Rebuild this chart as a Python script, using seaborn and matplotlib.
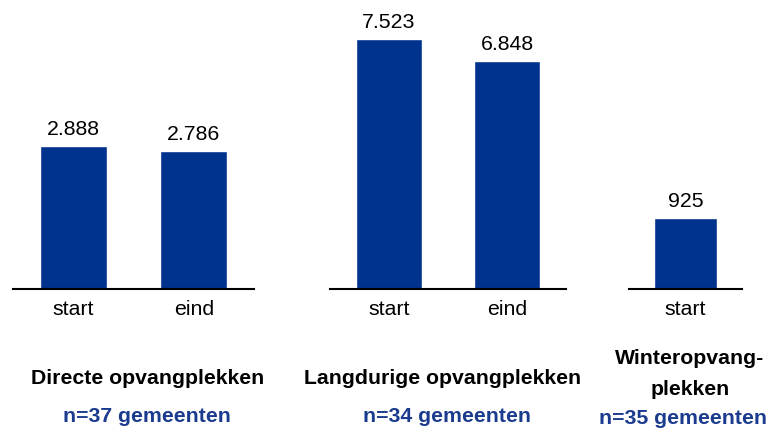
import matplotlib
matplotlib.use("Agg")
import matplotlib.pyplot as plt
import seaborn as sns

# data
direct_cats = ["start", "eind"]
direct_vals = [2888, 2786]
long_cats = ["start", "eind"]
long_vals = [7523, 6848]
winter_cats = ["start"]
winter_vals = [925]

group_titles = ["Directe opvangplekken", "Langdurige opvangplekken", "Winteropvang-\nplekken"]
group_counts = ["n=37 gemeenten", "n=34 gemeenten", "n=35 gemeenten"]

BAR_COLOR = "#00338D"
N_COLOR = "#1B3B8E"

sns.set_style("white")
plt.rcParams["font.family"] = ["Liberation Sans", "DejaVu Sans"]
plt.rcParams["text.color"] = "black"
plt.rcParams["xtick.color"] = "black"

W, H = 768, 430
fig = plt.figure(figsize=(W / 100, H / 100), dpi=100)

# (left px, width px, ymax, xlim) per panel
panels = [
    (direct_cats, direct_vals, 13, 241, 5837, (-0.5, 1.5)),
    (long_cats, long_vals, 330, 236, 8697, (-0.5, 1.5)),
    (winter_cats, winter_vals, 629, 113, 3765, (-0.5, 0.5)),
]
base_y = 289
FS = 15.3

for cats, vals, left, width, ymax, xl in panels:
    ax = fig.add_axes([left / W, (H - base_y) / H, width / W, base_y / H])
    sns.barplot(x=cats, y=vals, ax=ax, color=BAR_COLOR, width=0.56,
                saturation=1)
    ax.set_ylim(0, ymax)
    ax.set_xlim(*xl)
    ax.set_ylabel("")
    ax.set_yticks([])
    for s in ["top", "right", "left"]:
        ax.spines[s].set_visible(False)
    ax.spines["bottom"].set_color("black")
    ax.spines["bottom"].set_linewidth(1.5)
    ax.tick_params(axis="x", length=0, pad=8, labelsize=FS, labelcolor="black")
    ax.bar_label(ax.containers[0],
                 labels=[f"{v:,}".replace(",", ".") for v in vals],
                 padding=5, fontsize=FS, color="black")

# group titles below the panels
fig.text(148 / W, 1 - 378 / H, group_titles[0], ha="center", va="center",
         fontsize=FS, fontweight="bold")
fig.text(443 / W, 1 - 378 / H, group_titles[1], ha="center", va="center",
         fontsize=FS, fontweight="bold")
fig.text(690 / W, 1 - 374 / H, group_titles[2], ha="center", va="center",
         fontsize=FS, fontweight="bold", linespacing=1.75)

for xc, yc, txt in [(147, 417, group_counts[0]), (447, 417, group_counts[1]),
                    (683, 418, group_counts[2])]:
    fig.text(xc / W, 1 - yc / H, txt, ha="center", va="center",
             fontsize=FS, fontweight="bold", color=N_COLOR)

fig.savefig("out.png", dpi=100)
